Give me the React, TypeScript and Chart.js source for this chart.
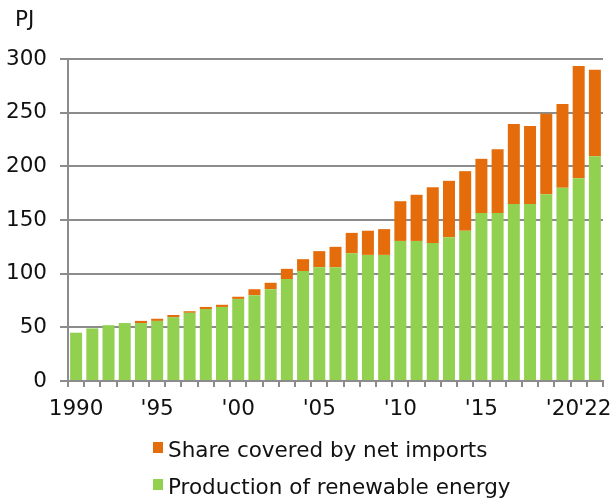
import React, { useEffect, useRef } from "react";
import { Chart, registerables } from "chart.js";

Chart.register(...registerables);

// Renewable energy supply, PJ per year
const years: number[] = [
  1990, 1991, 1992, 1993, 1994, 1995, 1996, 1997, 1998, 1999, 2000, 2001,
  2002, 2003, 2004, 2005, 2006, 2007, 2008, 2009, 2010, 2011, 2012, 2013,
  2014, 2015, 2016, 2017, 2018, 2019, 2020, 2021, 2022,
];

const production: number[] = [
  45, 49, 52, 54, 54, 56, 59.5, 63.5, 67, 69, 76.5, 80, 85.5, 95, 102.5, 106,
  106, 119, 117.5, 117.5, 130.5, 130.5, 128.5, 134, 140, 156.5, 156.5, 165,
  165, 174, 180, 189, 209.5,
];

const netImports: number[] = [
  0, 0, 0, 0, 2, 2, 2, 1.5, 2, 2, 2, 5.5, 6, 9.5, 11, 15, 19, 19, 22.5, 24,
  37, 43, 52, 52.5, 55.5, 50.5, 59.5, 74.5, 72.5, 75, 78, 104.5, 80.5,
];

const tickYears: number[] = [1990, 1995, 2000, 2005, 2010, 2015, 2020, 2022];
const tickTexts: string[] = ["1990", "'95", "'00", "'05", "'10", "'15", "'20", "'22"];

const seriesNames: string[] = [
  "Share covered by net imports",
  "Production of renewable energy",
];

const GREEN = "#92d050";
const ORANGE = "#e46c0a";
const GRID = "#8c8c8c";
const TEXT = "#111111";
const FONT = "'DejaVu Sans', Verdana, sans-serif";
const FONT_SIZE = 21.5;

const unitLabel = {
  id: "unitLabel",
  afterDraw(chart: Chart) {
    const ctx = chart.ctx;
    ctx.save();
    ctx.fillStyle = TEXT;
    ctx.font = `${FONT_SIZE}px ${FONT}`;
    ctx.textAlign = "left";
    ctx.textBaseline = "alphabetic";
    ctx.fillText("PJ", 15, 26);
    ctx.restore();
  },
};

export default function App() {
  const canvasRef = useRef<HTMLCanvasElement | null>(null);

  useEffect(() => {
    if (!canvasRef.current) return;
    const chart = new Chart(canvasRef.current, {
      type: "bar",
      data: {
        labels: years.map(String),
        datasets: [
          {
            label: seriesNames[1],
            data: production,
            backgroundColor: GREEN,
            borderWidth: 0,
            barPercentage: 0.74,
            categoryPercentage: 1,
          },
          {
            label: seriesNames[0],
            data: netImports,
            backgroundColor: ORANGE,
            borderWidth: 0,
            barPercentage: 0.74,
            categoryPercentage: 1,
          },
        ],
      },
      options: {
        responsive: false,
        animation: false,
        devicePixelRatio: 1,
        layout: { padding: { top: 59, right: 12, left: 0, bottom: 0 } },
        plugins: {
          legend: { display: false },
          tooltip: { enabled: false },
        },
        scales: {
          x: {
            stacked: true,
            offset: true,
            grid: {
              offset: true,
              drawOnChartArea: false,
              drawTicks: true,
              tickLength: 6,
              color: GRID,
              lineWidth: 2,
            },
            border: { display: true, color: GRID, width: 2 },
            ticks: {
              autoSkip: false,
              maxRotation: 0,
              minRotation: 0,
              padding: 10,
              color: TEXT,
              font: { family: FONT, size: FONT_SIZE },
              callback: (_v: any, i: number) => {
                const k = tickYears.indexOf(years[i]);
                return k >= 0 ? tickTexts[k] : "";
              },
            },
            afterFit: (s: any) => {
              s.height = 118;
              s.paddingLeft = 0;
              s.paddingRight = 0;
            },
          },
          y: {
            stacked: true,
            min: 0,
            max: 300,
            grid: {
              color: GRID,
              lineWidth: 2,
              tickLength: 8,
              drawTicks: true,
            },
            border: { display: true, color: GRID, width: 2 },
            ticks: {
              stepSize: 50,
              padding: 13,
              color: TEXT,
              font: { family: FONT, size: FONT_SIZE },
            },
            afterFit: (s: any) => {
              s.width = 68;
            },
          },
        },
      },
      plugins: [unitLabel],
    });
    return () => chart.destroy();
  }, []);

  const legendItems = [
    { name: seriesNames[0], color: ORANGE },
    { name: seriesNames[1], color: GREEN },
  ];

  return (
    <div
      style={{
        position: "fixed",
        left: 0,
        top: 0,
        width: 615,
        height: 499,
        background: "#fff",
        fontFamily: FONT,
      }}
    >
      <canvas ref={canvasRef} width={615} height={499} style={{ display: "block" }} />
      <div
        style={{
          position: "absolute",
          left: 153,
          top: 431,
          fontSize: FONT_SIZE,
          color: TEXT,
        }}
      >
        {legendItems.map((it) => (
          <div
            key={it.name}
            style={{ display: "flex", alignItems: "center", height: 37, whiteSpace: "nowrap" }}
          >
            <span
              style={{
                display: "inline-block",
                width: 10,
                height: 11,
                background: it.color,
                marginRight: 5,
                marginTop: -4,
              }}
            />
            <span>{it.name}</span>
          </div>
        ))}
      </div>
    </div>
  );
}
